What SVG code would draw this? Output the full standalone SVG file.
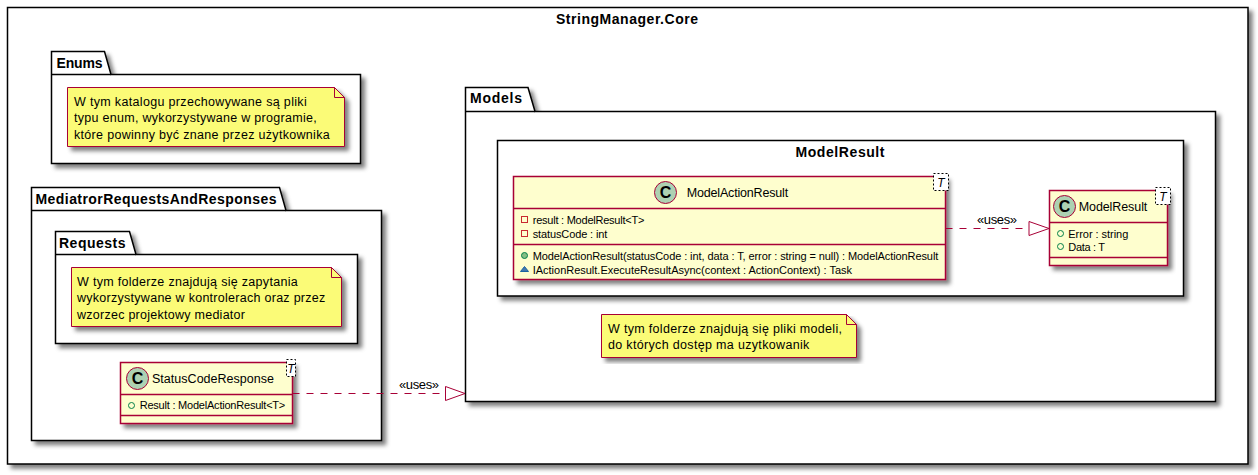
<svg xmlns="http://www.w3.org/2000/svg" width="1258" height="475" viewBox="0 0 1258 475">
<style>
text{font-family:"Liberation Sans",Arial,sans-serif;fill:#000}
.pkg{fill:#fff;stroke:#000;stroke-width:1.5;filter:url(#sh)}
.tab{fill:#fff;stroke:#000;stroke-width:1.5}
.pt{font-size:14px;font-weight:bold}
.note{fill:#FBFB77;stroke:#A80036;stroke-width:1;filter:url(#sh)}
.fold{fill:#FBFB77;stroke:#A80036;stroke-width:1}
.nt{font-size:12.5px}
.cls{fill:#FEFECE;stroke:#A80036;stroke-width:1.5;filter:url(#sh)}
.sep{stroke:#A80036;stroke-width:1.5;fill:none}
.ci{fill:#ADD1B2;stroke:#A80036;stroke-width:1}
.cg{font-size:16px;font-weight:bold;text-anchor:middle}
.cn{font-size:12.5px}
.m{font-size:11px}
.tb{fill:#fff;stroke:#000;stroke-width:1;stroke-dasharray:2 2}
.tt{font-size:12px;font-style:italic;text-anchor:middle}
.pub{fill:none;stroke:#038048;stroke-width:1}
.pubf{fill:#84BE84;stroke:#038048;stroke-width:1}
.pri{fill:none;stroke:#C82930;stroke-width:1}
.tri{fill:#4177AF;stroke:#1963A0;stroke-width:1}
.dash{stroke:#A80036;stroke-width:1;stroke-dasharray:7 7;fill:none}
.head{fill:#fff;stroke:#A80036;stroke-width:1}
.lb{font-size:13px}
</style>
<defs>
<filter id="sh" x="-5%" y="-5%" width="112%" height="120%">
<feGaussianBlur in="SourceAlpha" stdDeviation="2"/>
<feOffset dx="4" dy="4"/>
<feColorMatrix type="matrix" values="0 0 0 0 0 0 0 0 0 0 0 0 0 0 0 0 0 0 0.5 0"/>
<feMerge><feMergeNode/><feMergeNode in="SourceGraphic"/></feMerge>
</filter>
</defs>

<g id="StringManagerCore">
<rect class="pkg" x="7.5" y="7.5" width="1240.5" height="456.5"/>
<text class="pt" x="627" y="24" text-anchor="middle" textLength="142">StringManager.Core</text>
</g>

<g id="Enums">
<path class="pkg" d="M51.5,74.5V51.5H104.5L111,74.5H360.5V163.5H51.5Z"/>
<path class="tab" d="M51.5,74.5H111" fill="none"/>
<text class="pt" x="56.5" y="68" textLength="46">Enums</text>
</g>
<g id="EnumsNote">
<path class="note" d="M67.5,87.5H334.5L344.5,97.5V146.5H67.5Z"/>
<path class="fold" d="M334.5,87.5V97.5H344.5Z"/>
<text class="nt" x="74" y="106" textLength="232.7">W tym katalogu przechowywane są pliki</text>
<text class="nt" x="74" y="122" textLength="242.7">typu enum, wykorzystywane w programie,</text>
<text class="nt" x="74" y="138.5" textLength="255.7">które powinny być znane przez użytkownika</text>
</g>

<g id="MediatrorRequestsAndResponses">
<path class="pkg" d="M31.5,210.5V187.5H279.5L286,210.5H381.5V440.5H31.5Z"/>
<path class="tab" d="M31.5,210.5H286" fill="none"/>
<text class="pt" x="35.5" y="204" textLength="241">MediatrorRequestsAndResponses</text>
</g>
<g id="Requests">
<path class="pkg" d="M55.5,254.5V231.5H129.5L136,254.5H357.5V343.5H55.5Z"/>
<path class="tab" d="M55.5,254.5H136" fill="none"/>
<text class="pt" x="59" y="248" textLength="66.5">Requests</text>
</g>
<g id="RequestsNote">
<path class="note" d="M71.5,267.5H331.5L341.5,277.5V326.5H71.5Z"/>
<path class="fold" d="M331.5,267.5V277.5H341.5Z"/>
<text class="nt" x="77" y="286" textLength="220.7">W tym folderze znajdują się zapytania</text>
<text class="nt" x="77" y="302" textLength="248.3">wykorzystywane w kontrolerach oraz przez</text>
<text class="nt" x="77" y="318.5" textLength="168">wzorzec projektowy mediator</text>
</g>
<g id="StatusCodeResponse">
<rect class="cls" x="120.5" y="362.5" width="172" height="61"/>
<path class="sep" d="M120.5,394.5H292.5M120.5,415.5H292.5"/>
<circle class="ci" cx="137.5" cy="378.5" r="11"/>
<text class="cg" x="137.5" y="384">C</text>
<text class="cn" x="152" y="383" textLength="122">StatusCodeResponse</text>
<rect class="tb" x="286.5" y="359.5" width="9" height="17"/>
<text class="tt" x="291" y="372.5">T</text>
<circle class="pub" cx="131.5" cy="405.5" r="3"/>
<text class="m" x="139.7" y="409" textLength="145.6">Result : ModelActionResult&lt;T&gt;</text>
</g>

<g id="Models">
<path class="pkg" d="M465.5,111.5V87.5H528L535,111.5H1215.5V401.5H465.5Z"/>
<path class="tab" d="M465.5,111.5H535" fill="none"/>
<text class="pt" x="470" y="103" textLength="52">Models</text>
</g>
<g id="ModelResultFrame">
<rect class="pkg" x="497.5" y="140.5" width="686" height="155.5"/>
<text class="pt" x="840" y="157" text-anchor="middle" textLength="89">ModelResult</text>
</g>
<g id="ModelActionResult">
<rect class="cls" x="513.5" y="176.5" width="432" height="103"/>
<path class="sep" d="M513.5,208.5H945.5M513.5,244.5H945.5"/>
<circle class="ci" cx="665.5" cy="192.5" r="11"/>
<text class="cg" x="665.5" y="198">C</text>
<text class="cn" x="686.7" y="197" textLength="101.5">ModelActionResult</text>
<rect class="tb" x="933.5" y="173.5" width="15" height="17"/>
<text class="tt" x="941" y="186.5">T</text>
<rect class="pri" x="521.5" y="216.5" width="6" height="6"/>
<text class="m" x="532.7" y="224" textLength="111.7">result : ModelResult&lt;T&gt;</text>
<rect class="pri" x="521.5" y="230.5" width="6" height="6"/>
<text class="m" x="532.7" y="238" textLength="74.7">statusCode : int</text>
<circle class="pubf" cx="524.5" cy="255.5" r="3"/>
<text class="m" x="532.7" y="260" textLength="405.6">ModelActionResult(statusCode : int, data : T, error : string = null) : ModelActionResult</text>
<polygon class="tri" points="520.5,271.5 528.5,271.5 524.5,266.5"/>
<text class="m" x="532.7" y="273.5" textLength="319.3">IActionResult.ExecuteResultAsync(context : ActionContext) : Task</text>
</g>
<g id="ModelResult">
<rect class="cls" x="1049.5" y="190.5" width="118" height="75"/>
<path class="sep" d="M1049.5,222.5H1167.5M1049.5,257.5H1167.5"/>
<circle class="ci" cx="1064.5" cy="206.5" r="11"/>
<text class="cg" x="1064.5" y="212">C</text>
<text class="cn" x="1078.7" y="211" textLength="68.6">ModelResult</text>
<rect class="tb" x="1155.5" y="187.5" width="15" height="17"/>
<text class="tt" x="1163" y="200.5">T</text>
<circle class="pub" cx="1060.5" cy="233.5" r="3"/>
<text class="m" x="1068.3" y="237.5" textLength="60">Error : string</text>
<circle class="pub" cx="1060.5" cy="246.5" r="3"/>
<text class="m" x="1068.3" y="251" textLength="36.7">Data : T</text>
</g>
<g id="ModelsNote">
<path class="note" d="M601.5,314.5H846.5L856.5,324.5V357.5H601.5Z"/>
<path class="fold" d="M846.5,314.5V324.5H856.5Z"/>
<text class="nt" x="608" y="333" textLength="234">W tym folderze znajdują się pliki modeli,</text>
<text class="nt" x="608" y="349" textLength="201.3">do których dostęp ma uzytkowanik</text>
</g>

<g id="connectors">
<path class="dash" d="M292.5,393.5H445.5"/>
<polygon class="head" points="445.5,386.5 465,393.5 445.5,400.5"/>
<text class="lb" x="399" y="389" textLength="40">«uses»</text>
<path class="dash" d="M945.5,228.5H1029"/>
<polygon class="head" points="1029,221.5 1049,228.5 1029,235.5"/>
<text class="lb" x="977" y="224" textLength="40">«uses»</text>
</g>
</svg>
